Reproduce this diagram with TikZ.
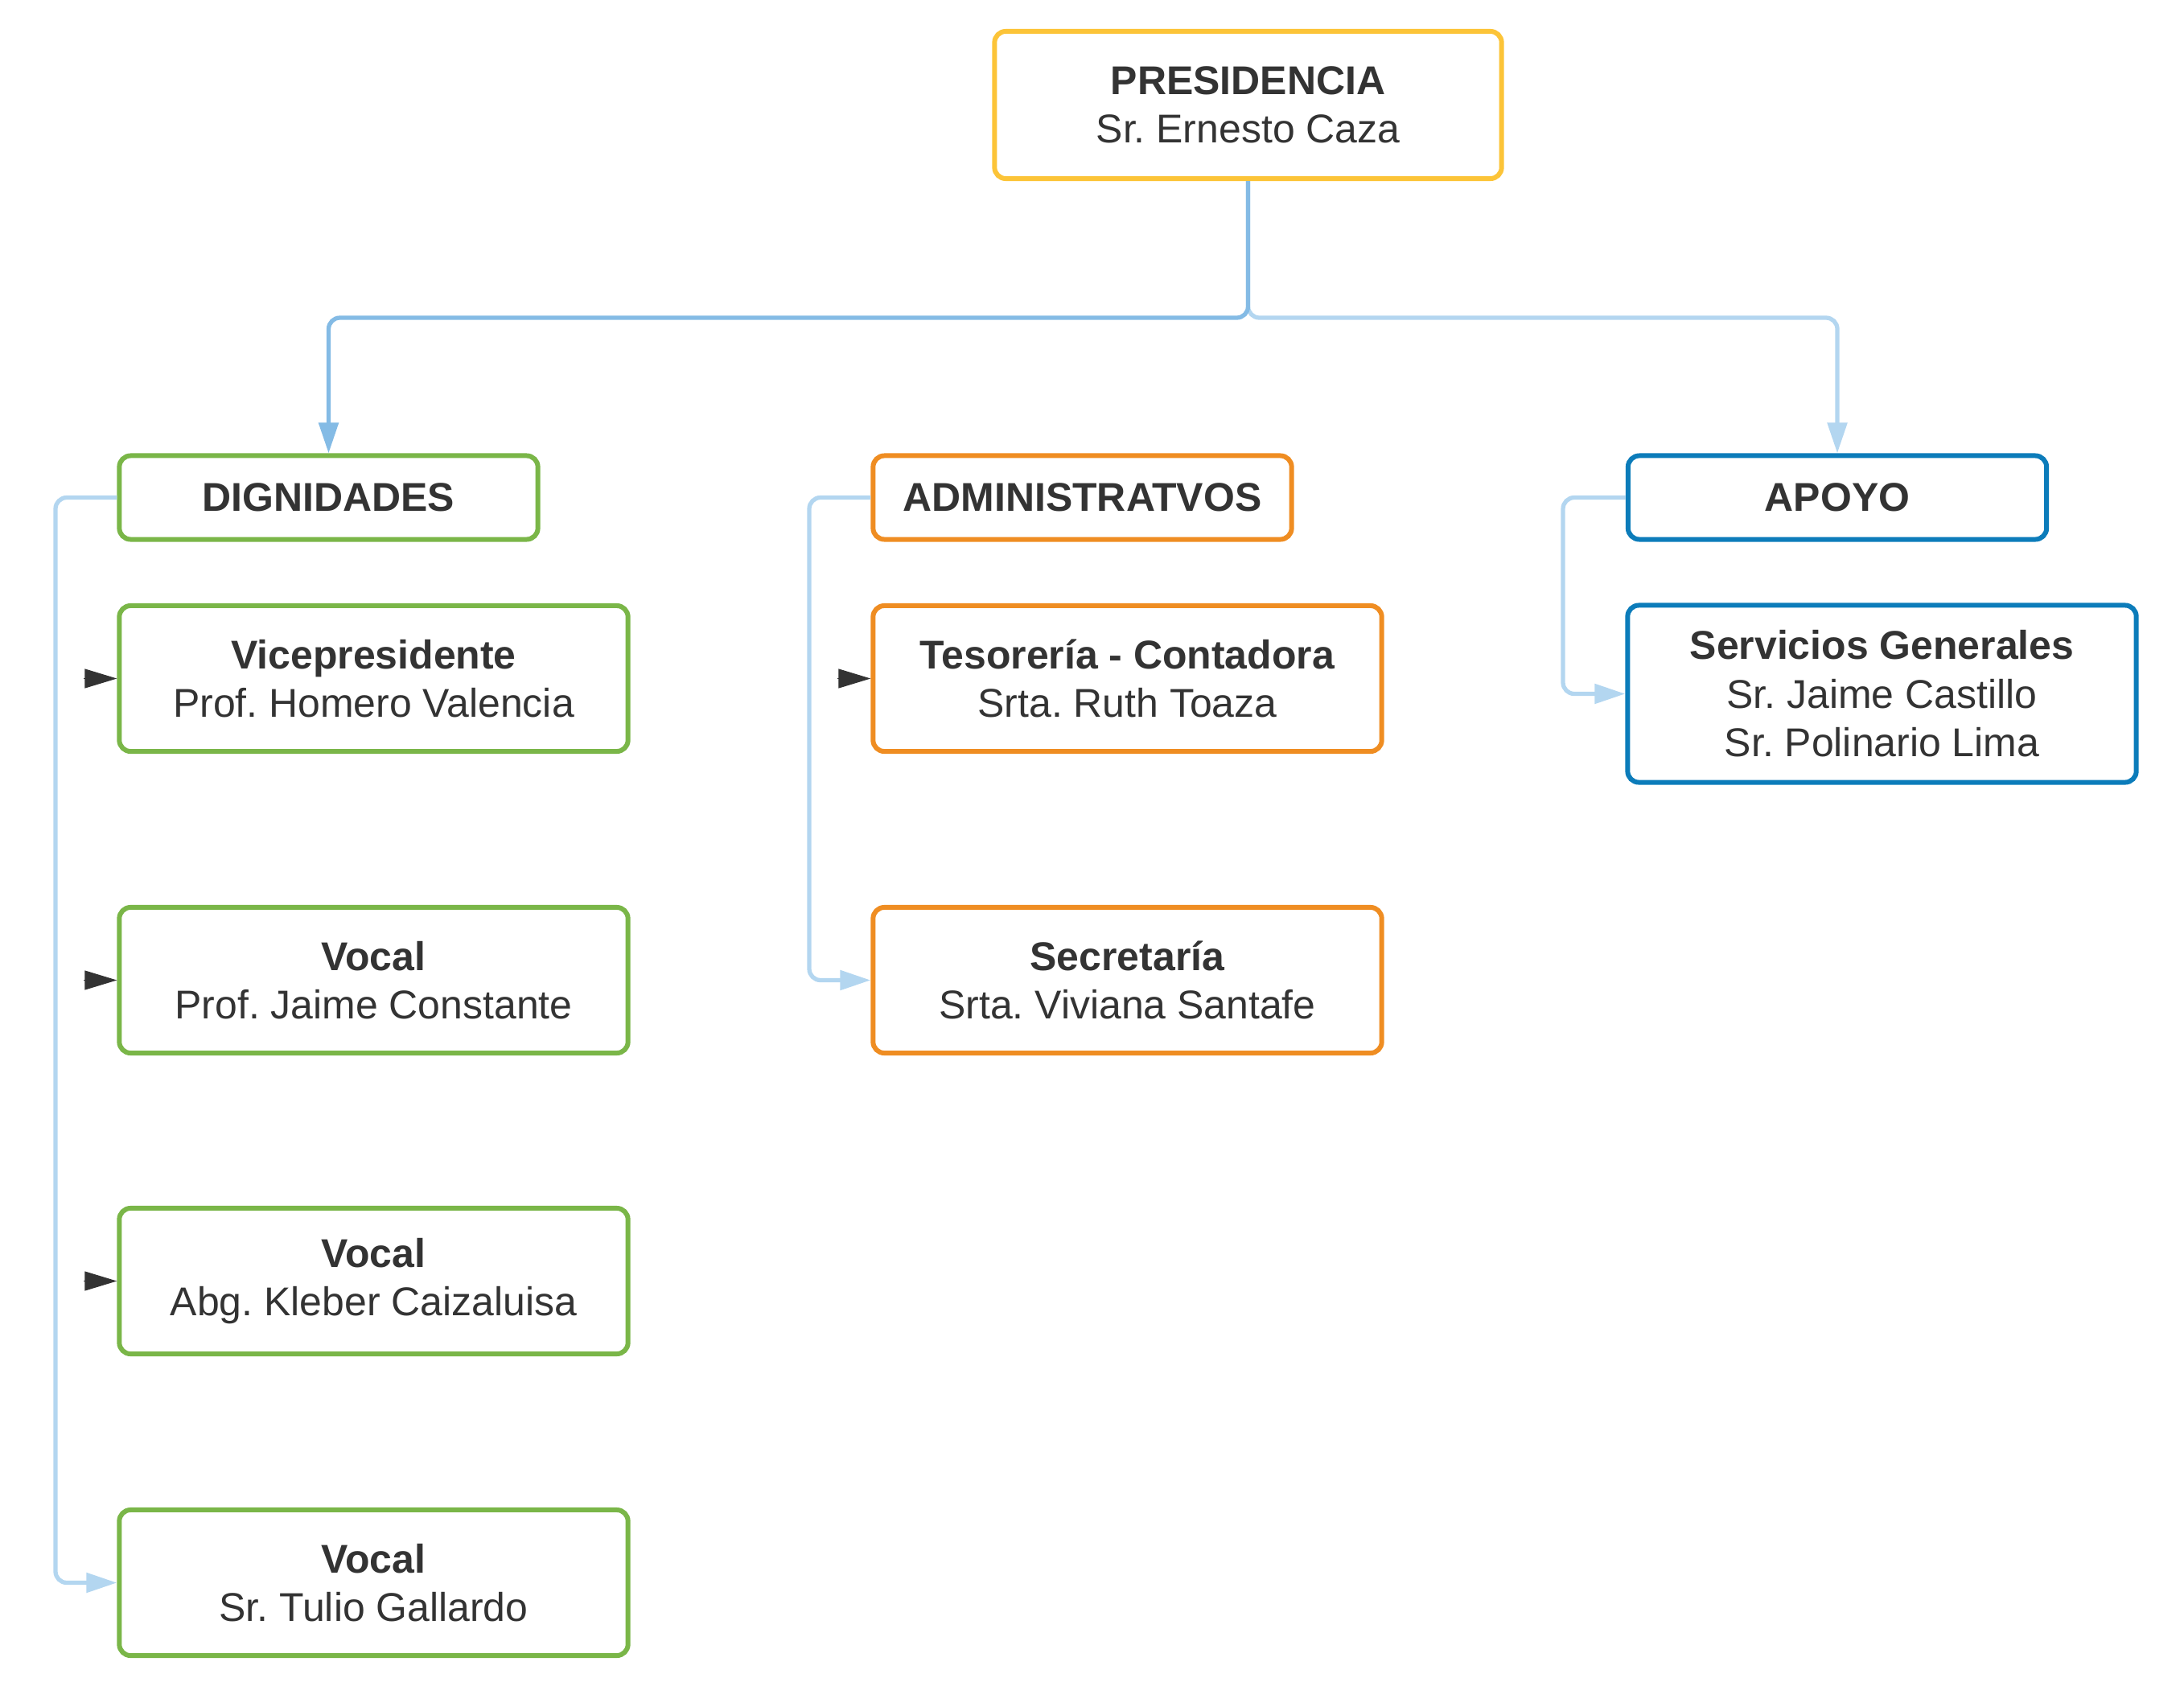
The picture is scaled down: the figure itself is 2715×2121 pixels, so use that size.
\documentclass[tikz,border=0pt]{standalone}
\usepackage{fontspec}
\setmainfont{Liberation Sans}
\usetikzlibrary{arrows.meta}
\definecolor{txt}{HTML}{333333}
\definecolor{cy}{HTML}{FCC438}
\definecolor{cg}{HTML}{7AB648}
\definecolor{co}{HTML}{EF8D22}
\definecolor{cb}{HTML}{0C7CBA}
\definecolor{ln}{HTML}{B3D6F0}
\definecolor{lnd}{HTML}{84BBE5}
\frenchspacing
\begin{document}
\begin{tikzpicture}[x=0.01cm,y=-0.01cm,
  box/.style={draw, line width=1.7pt, rounded corners=0.14cm, align=center,
    text=txt, font=\fontsize{14.2pt}{17.2pt}\selectfont, inner sep=0pt, fill=white},
  head/.style={box, minimum width=5.2cm, minimum height=1.04cm, font=\fontsize{14.2pt}{17.2pt}\selectfont\bfseries},
  card/.style={box, minimum width=6.32cm, minimum height=1.81cm},
  conn/.style={line width=1.5pt, rounded corners=0.14cm, -{Triangle[length=0.38cm,width=0.24cm]}},
  stub/.style={txt, line width=0.3pt, -{Triangle[length=0.40cm,width=0.24cm]}}
]
\useasboundingbox (0,0) rectangle (2715,2121);

\node[box, draw=cy, minimum width=6.3cm, minimum height=1.83cm] (pres) at (1551.5,130.5)
  {\textbf{PRESIDENCIA}\\Sr. Ernesto Caza};

\node[head, draw=cg] (dign) at (408.5,618.5) {DIGNIDADES};
\node[head, draw=co] (admin) at (1345.5,618.5) {ADMINISTRATVOS};
\node[head, draw=cb] (apoyo) at (2284,618.5) {APOYO};

\node[card, draw=cg] (vice) at (464.5,843.5) {\textbf{Vicepresidente}\\Prof. Homero Valencia};
\node[card, draw=cg] (voc2) at (464.5,1218.5) {\textbf{Vocal}\\Prof. Jaime Constante};
\node[card, draw=cg] (voc3) at (464.5,1592.5) {\textbf{Vocal}\\Abg. Kleber Caizaluisa};
\node[card, draw=cg] (voc4) at (464.5,1967.5) {\textbf{Vocal}\\Sr. Tulio Gallardo};

\node[card, draw=co] (teso) at (1401.5,843.5) {\textbf{Tesorería - Contadora}\\Srta. Ruth Toaza};
\node[card, draw=co] (secr) at (1401.5,1218.5) {\textbf{Secretaría}\\Srta. Viviana Santafe};

\node[card, draw=cb, minimum height=2.2cm] (serv) at (2339.5,862.5)
  {\textbf{Servicios Generales}\\Sr. Jaime Castillo\\Sr. Polinario Lima};

% junction and rails
\coordinate (jl) at (0,395);
\coordinate (xd) at (69,0);
\coordinate (xa) at (1006,0);
\coordinate (xp) at (1943,0);

\draw[conn, ln] (pres.south) -- (pres.south |- jl) -| (apoyo.north);
\draw[conn, lnd] (pres.south) -- (pres.south |- jl) -| (dign.north);

\draw[conn, ln] (dign.west) -| (xd |- voc4.west) -- (voc4.west);
\draw[conn, ln] (admin.west) -| (xa |- secr.west) -- (secr.west);
\draw[conn, ln] (apoyo.west) -| (xp |- serv.west) -- (serv.west);

% stub arrows
\coordinate (s1) at (104,843.5);
\coordinate (s2) at (104,1218.5);
\coordinate (s3) at (104,1592.5);
\coordinate (s4) at (1041,843.5);
\draw[stub] (s1) -- (vice.west);
\draw[stub] (s2) -- (voc2.west);
\draw[stub] (s3) -- (voc3.west);
\draw[stub] (s4) -- (teso.west);
\end{tikzpicture}
\end{document}
